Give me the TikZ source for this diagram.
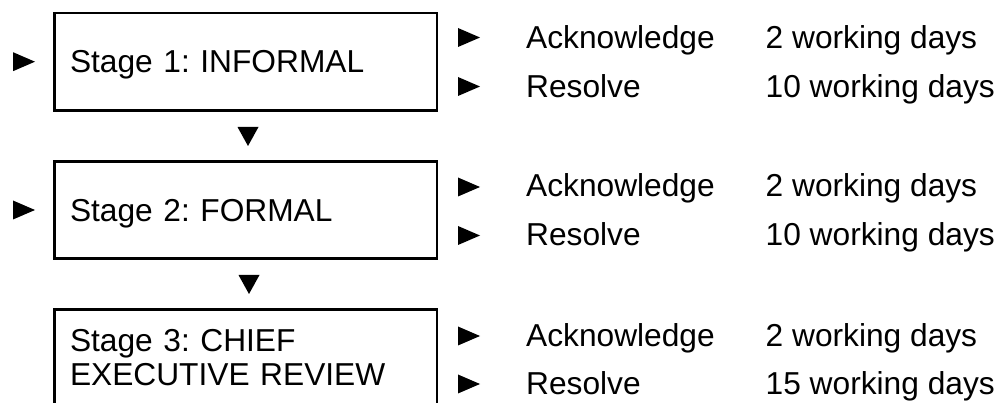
\documentclass[tikz,border=0pt]{standalone}
\usepackage{fontspec}
\setmainfont{Liberation Sans}
\frenchspacing
\tikzset{
  bodyfont/.style={font=\fontsize{31.7}{34}\selectfont},
  stagebox/.style={draw, line width=2.6pt, bodyfont,
    minimum width=382.5pt, minimum height=97.5pt,
    text width=351.5pt, inner xsep=15.5pt, inner ysep=0pt,
    align=left},
  oneline/.style={text depth=0pt},
  item/.style={anchor=base west, inner sep=0pt, bodyfont},
  rtri/.pic={\fill (-11,-9.5) -- (11,0) -- (-11,9.5) -- cycle;},
  dtri/.pic={\fill (-10.5,-9.5) -- (10.5,-9.5) -- (0,9.5) -- cycle;},
}
\begin{document}
\begin{tikzpicture}[x=1pt, y=-1pt]
\useasboundingbox (0,0) rectangle (1002,403);
\clip (0,0) rectangle (1002,403);

% stage boxes
\node[stagebox, oneline] (s1) at (245.75, 61.7) {Stage 1: INFORMAL};
\node[stagebox, oneline] (s2) at (245.75, 210) {Stage 2: FORMAL};
\node[stagebox] (s3) at (245.75, 358) {Stage 3: CHIEF\\EXECUTIVE REVIEW};

% entry pointers
\pic (e1) at (24, 61.7) {rtri};
\pic (e2) at (24, 210) {rtri};

% downward pointers between stages
\pic (d1) at (248, 136.5) {dtri};
\pic (d2) at (249, 284.5) {dtri};

% time limits, stage 1
\pic (p1a) at (469, 37.5) {rtri};
\pic (p1b) at (469, 86.5) {rtri};
\node[item] (a1) at (526, 48.5) {Acknowledge};
\node[item] (r1) at (526, 97.5) {Resolve};
\node[item] (ta1) at (765.5, 48.5) {2 working days};
\node[item] (tr1) at (765.5, 97.5) {10 working days};

% time limits, stage 2
\pic (p2a) at (469, 187) {rtri};
\pic (p2b) at (469, 235.5) {rtri};
\node[item] (a2) at (526, 197) {Acknowledge};
\node[item] (r2) at (526, 246) {Resolve};
\node[item] (ta2) at (765.5, 197) {2 working days};
\node[item] (tr2) at (765.5, 246) {10 working days};

% time limits, stage 3
\pic (p3a) at (469, 336) {rtri};
\pic (p3b) at (469, 384) {rtri};
\node[item] (a3) at (526, 347) {Acknowledge};
\node[item] (r3) at (526, 395) {Resolve};
\node[item] (ta3) at (765.5, 347) {2 working days};
\node[item] (tr3) at (765.5, 395) {15 working days};
\end{tikzpicture}
\end{document}
